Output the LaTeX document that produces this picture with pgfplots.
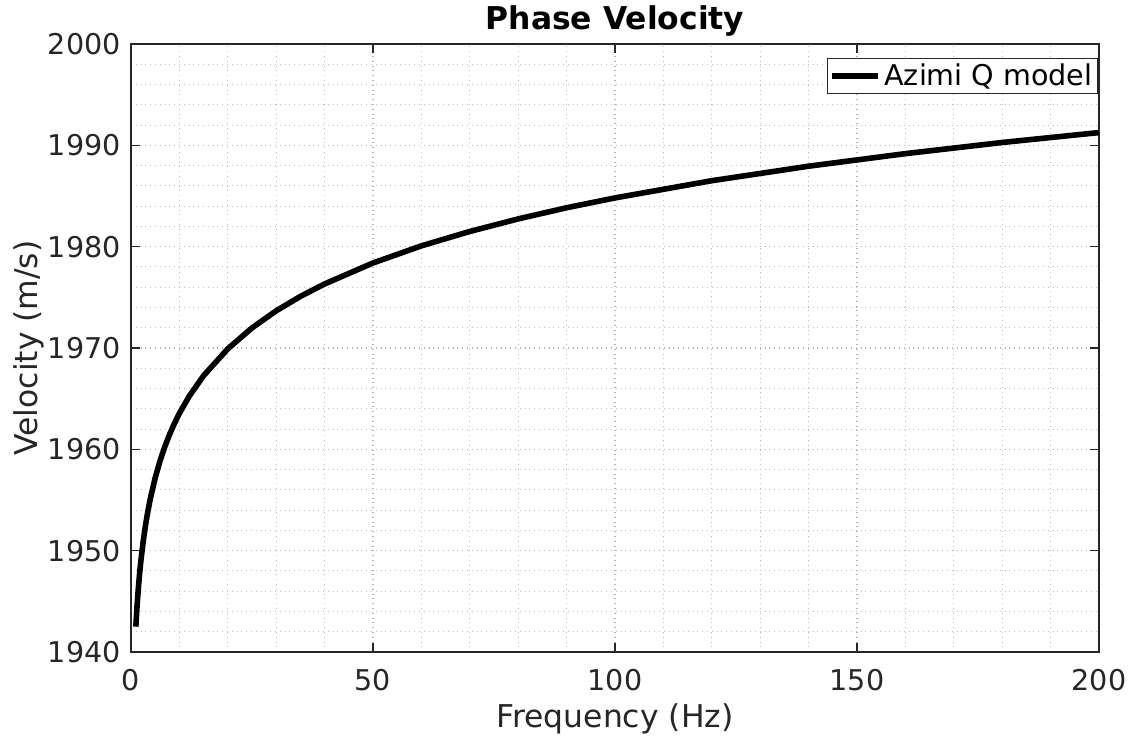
\documentclass[border=0pt]{standalone}
\usepackage{pgfplots}
\pgfplotsset{compat=1.18}
\usepackage{fontspec}
\setmainfont{DejaVu Sans}
\begin{document}
\begin{tikzpicture}
\begin{axis}[
 scale only axis, width=484pt, height=304pt,
 xmin=0, xmax=200, ymin=1940, ymax=2000,
 xtick={0,50,100,150,200}, ytick={1940,1950,...,2000},
 minor x tick num=4, minor y tick num=4,
 grid=both,
 major grid style={black!30, dotted, line width=0.55pt},
 minor grid style={black!26, dotted, line width=0.55pt},
 tick align=inside, major tick length=4.5pt, minor tick length=0pt,
 axis line style={black!85, line width=0.6pt},
 every tick/.style={black!85, line width=0.6pt},
 tick label style={font=\fontsize{14.3}{17}\selectfont, text=black!85},
 /pgf/number format/assume math mode=true,
 /pgf/number format/1000 sep={},
 xticklabel style={anchor=base, yshift=-19.5pt, inner sep=0pt},
 yticklabel style={anchor=east, xshift=-5pt, inner sep=0pt},
 title={Phase Velocity},
 title style={at={(axis description cs:0.5,1)}, anchor=base, yshift=1pt, font=\bfseries\fontsize{15.7}{18}\selectfont},
 xlabel={Frequency (Hz)},
 xlabel style={at={(axis description cs:0.5,0)}, anchor=base, yshift=-38pt, font=\fontsize{15.7}{18}\selectfont, text=black!85},
 ylabel={Velocity (m/s)},
 ylabel style={at={([xshift=-46.5pt]axis description cs:0,0.5)}, anchor=base, font=\fontsize{15.7}{18}\selectfont, text=black!85},
 legend style={at={(1,1)}, anchor=north east, yshift=-7pt, xshift=-0.5pt, draw=black!85, line width=0.5pt, fill=white, inner xsep=0.75pt, inner ysep=0pt, font=\fontsize{14.3}{17}\selectfont, nodes={inner xsep=1.75pt, inner ysep=2.5pt}, column sep=0pt},
 legend cell align=left,
 legend image code/.code={\draw[#1] (0pt,0pt) -- (23pt,0pt);},
]
\addplot[black, line width=2.8pt] table {
f v
1 1942.50
1.25 1944.53
1.5 1946.19
1.75 1947.59
2 1948.81
2.5 1950.84
3 1952.51
3.5 1953.92
4 1955.14
5 1957.19
6 1958.86
7 1960.27
8 1961.50
9 1962.58
10 1963.55
12 1965.22
15 1967.27
20 1969.92
25 1971.98
30 1973.67
35 1975.09
40 1976.32
50 1978.39
60 1980.08
70 1981.50
80 1982.74
90 1983.84
100 1984.81
120 1986.51
140 1987.94
160 1989.18
180 1990.28
200 1991.26
};
\addlegendentry{Azimi Q model}
\coordinate (ll) at (rel axis cs:0,0);
\coordinate (ur) at (rel axis cs:1,1);
\end{axis}
\pgfresetboundingbox
\path ([shift={(-65.5pt,-44pt)}]ll) rectangle ([shift={(16.5pt,22pt)}]ur);
\end{tikzpicture}
\end{document}
